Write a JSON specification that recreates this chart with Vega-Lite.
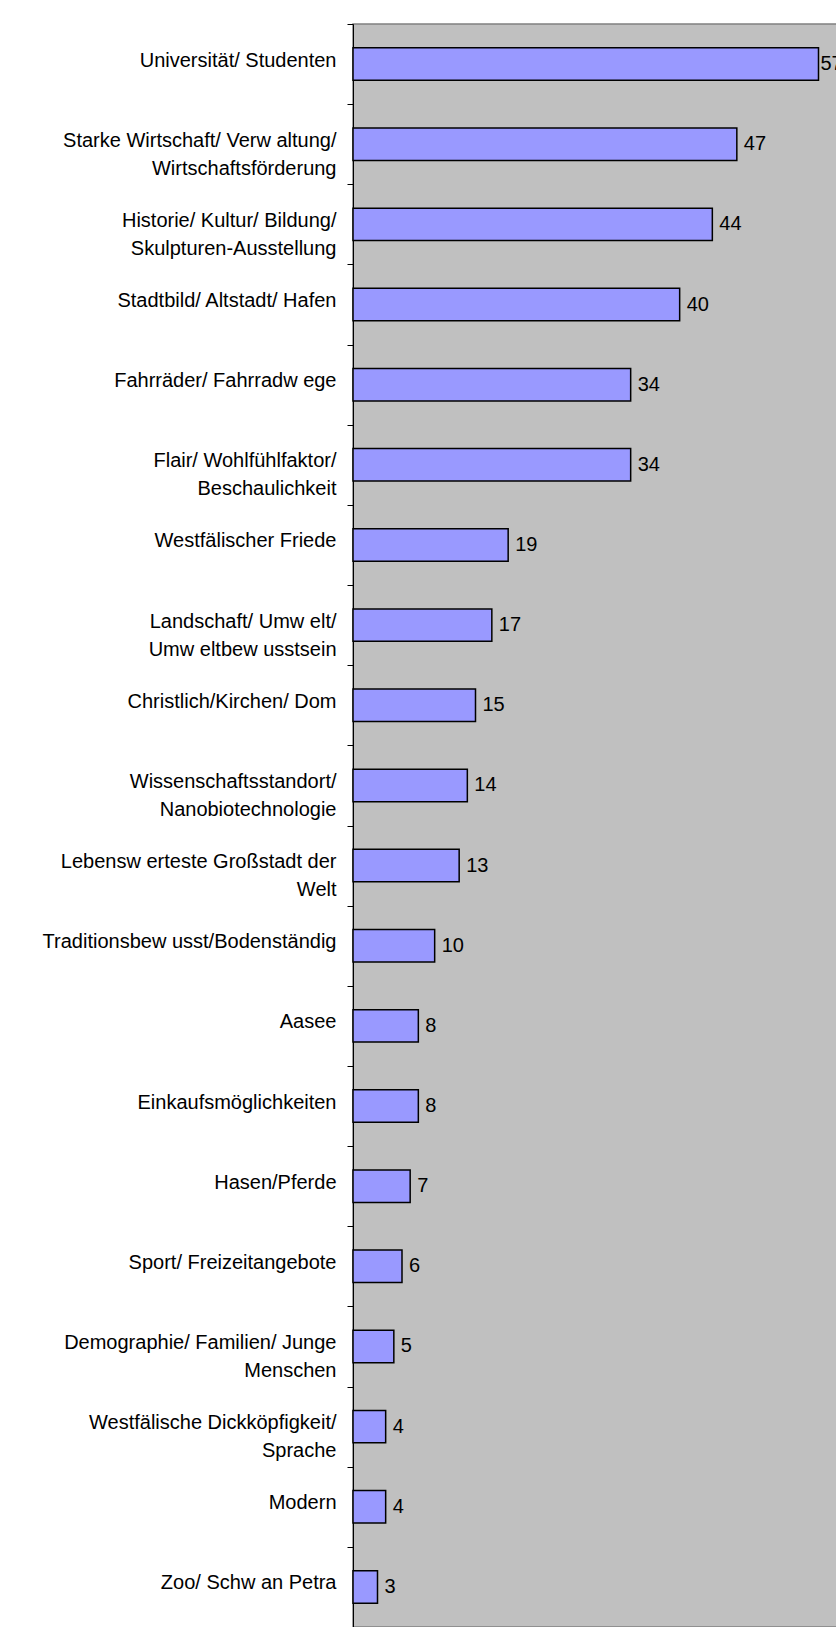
{
  "$schema": "https://vega.github.io/schema/vega-lite/v6.json",
  "autosize": {"type": "none"},
  "padding": {"left": 353, "top": 24, "right": 0, "bottom": 0},
  "width": 490,
  "height": 1603,
  "background": "#ffffff",
  "data": {
    "values": [
      {"label": "Universität/ Studenten", "value": 57},
      {"label": "Starke Wirtschaft/ Verw altung/|Wirtschaftsförderung", "value": 47},
      {"label": "Historie/ Kultur/ Bildung/|Skulpturen-Ausstellung", "value": 44},
      {"label": "Stadtbild/ Altstadt/ Hafen", "value": 40},
      {"label": "Fahrräder/ Fahrradw ege", "value": 34},
      {"label": "Flair/ Wohlfühlfaktor/|Beschaulichkeit", "value": 34},
      {"label": "Westfälischer Friede", "value": 19},
      {"label": "Landschaft/ Umw elt/|Umw eltbew usstsein", "value": 17},
      {"label": "Christlich/Kirchen/ Dom", "value": 15},
      {"label": "Wissenschaftsstandort/|Nanobiotechnologie", "value": 14},
      {"label": "Lebensw erteste Großstadt der|Welt", "value": 13},
      {"label": "Traditionsbew usst/Bodenständig", "value": 10},
      {"label": "Aasee", "value": 8},
      {"label": "Einkaufsmöglichkeiten", "value": 8},
      {"label": "Hasen/Pferde", "value": 7},
      {"label": "Sport/ Freizeitangebote", "value": 6},
      {"label": "Demographie/ Familien/ Junge|Menschen", "value": 5},
      {"label": "Westfälische Dickköpfigkeit/|Sprache", "value": 4},
      {"label": "Modern", "value": 4},
      {"label": "Zoo/ Schw an Petra", "value": 3}
    ]
  },
  "encoding": {
    "y": {
      "field": "label",
      "type": "nominal",
      "sort": null,
      "scale": {"paddingInner": 0, "paddingOuter": 0},
      "axis": {
        "title": null,
        "labelExpr": "split(datum.label, '|')",
        "tickBand": "extent",
        "tickSize": 6,
        "tickColor": "#000000",
        "domainColor": "#000000",
        "labelFont": "Liberation Sans",
        "labelFontSize": 20,
        "labelColor": "#000000",
        "labelLineHeight": 28,
        "labelPadding": 11,
        "labelOffset": -4,
        "labelAlign": "right",
        "labelBaseline": "middle",
        "labelLimit": 0,
        "grid": false
      }
    },
    "x": {
      "field": "value",
      "type": "quantitative",
      "scale": {"domain": [0, 60], "nice": false},
      "axis": null
    }
  },
  "layer": [
    {
      "mark": {"type": "bar", "height": {"band": 0.405}, "fill": "#9999FF", "stroke": "#000000", "strokeWidth": 1.5}
    },
    {
      "transform": [{"filter": "datum.value < 57"}],
      "mark": {"type": "text", "align": "left", "baseline": "middle", "dx": 7, "font": "Liberation Sans", "fontSize": 20, "color": "#000000"},
      "encoding": {"text": {"field": "value", "type": "quantitative"}}
    },
    {
      "transform": [{"filter": "datum.value >= 57"}],
      "mark": {"type": "text", "align": "left", "baseline": "middle", "dx": 2, "font": "Liberation Sans", "fontSize": 20, "color": "#000000"},
      "encoding": {"text": {"field": "value", "type": "quantitative"}}
    }
  ],
  "config": {
    "view": {"fill": "#C0C0C0", "stroke": "#808080", "strokeWidth": 1.5}
  }
}
